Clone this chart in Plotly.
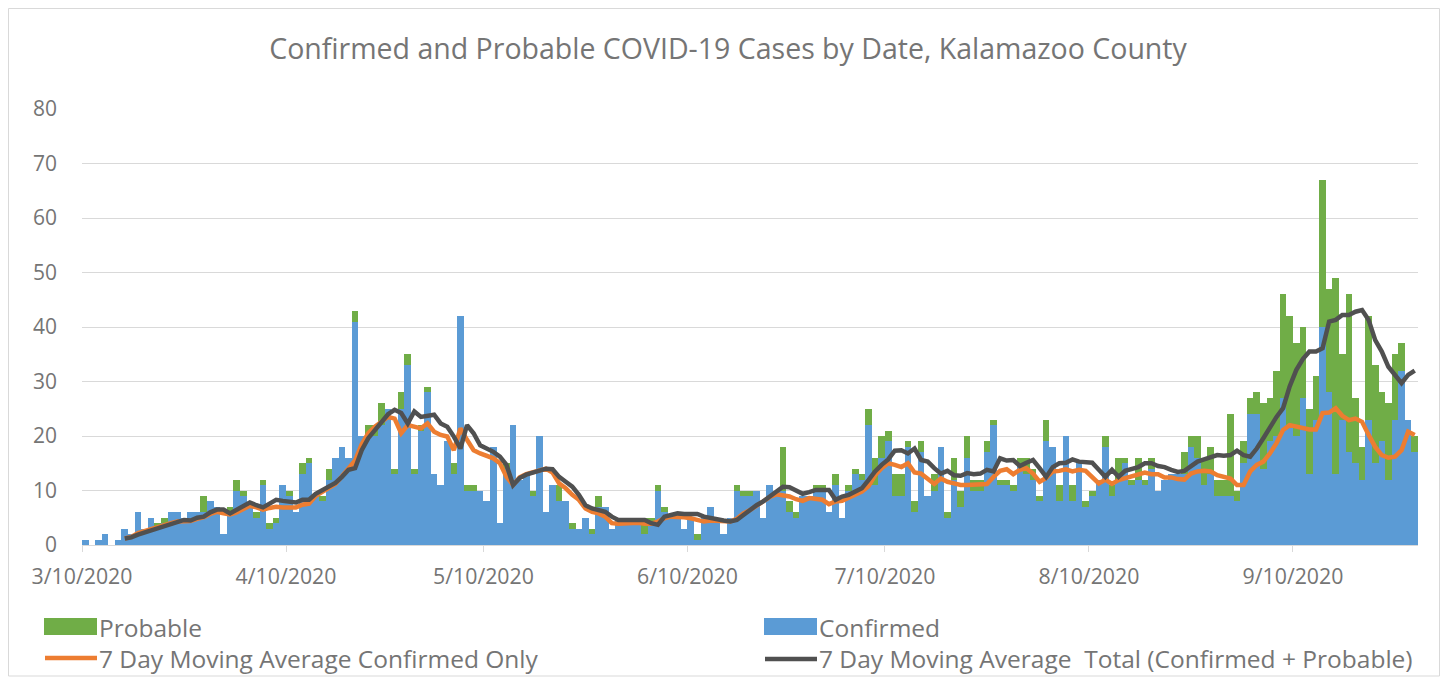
import pandas as pd
import plotly.graph_objects as go

dates = pd.date_range("2020-03-10", "2020-09-28", freq="D").strftime("%Y-%m-%d").tolist()

confirmed = [
    1, 0, 1, 2, 0, 1, 3, 2, 6, 3,
    5, 3, 4, 6, 6, 5, 6, 6, 6, 8,
    7, 2, 6, 10, 9, 7, 5, 11, 3, 4,
    11, 9, 6, 13, 15, 9, 8, 12, 16, 18,
    16, 41, 20, 20, 20, 22, 25, 13, 25, 33,
    13, 21, 28, 13, 11, 19, 13, 42, 10, 10,
    10, 8, 18, 4, 14, 22, 12, 13, 9, 20,
    6, 11, 8, 8, 3, 3, 5, 2, 7, 7,
    3, 5, 5, 5, 5, 2, 4, 10, 6, 5,
    5, 3, 5, 1, 5, 7, 5, 2, 5, 10,
    9, 9, 10, 5, 11, 10, 10, 6, 5, 9,
    9, 10, 10, 6, 11, 5, 10, 13, 12, 22,
    11, 16, 19, 9, 9, 18, 6, 17, 9, 10,
    18, 5, 12, 7, 16, 10, 10, 17, 22, 11,
    11, 10, 15, 13, 12, 8, 19, 18, 8, 20,
    8, 15, 7, 9, 12, 18, 9, 12, 15, 11,
    12, 11, 14, 10, 12, 13, 13, 13, 18, 16,
    11, 13, 9, 9, 9, 8, 15, 24, 24, 14,
    19, 20, 27, 22, 20, 27, 13, 23, 40, 28,
    13, 23, 17, 15, 12, 23, 15, 19, 12, 23,
    32, 23, 17,
]

probable = [
    0, 0, 0, 0, 0, 0, 0, 0, 0, 0,
    0, 1, 1, 0, 0, 0, 0, 0, 3, 0,
    0, 0, 1, 2, 1, 0, 1, 1, 1, 1,
    0, 1, 0, 2, 1, 0, 1, 2, 0, 0,
    0, 2, 0, 2, 2, 4, 0, 1, 3, 2,
    1, 1, 1, 0, 0, 0, 2, 0, 1, 1,
    0, 0, 0, 0, 1, 0, 0, 0, 1, 0,
    0, 0, 3, 0, 1, 0, 0, 1, 2, 0,
    0, 0, 0, 0, 0, 3, 1, 1, 1, 0,
    0, 0, 0, 1, 0, 0, 0, 0, 0, 1,
    1, 1, 0, 0, 0, 0, 8, 2, 1, 0,
    0, 1, 1, 0, 2, 0, 1, 1, 1, 3,
    5, 4, 2, 4, 4, 1, 2, 2, 0, 3,
    0, 1, 4, 3, 4, 2, 2, 2, 1, 1,
    1, 1, 1, 3, 2, 1, 4, 0, 3, 0,
    3, 0, 1, 1, 0, 2, 2, 4, 1, 1,
    4, 1, 2, 0, 0, 0, 0, 4, 2, 4,
    5, 5, 3, 3, 15, 2, 4, 3, 4, 12,
    8, 12, 19, 20, 17, 13, 12, 8, 27, 19,
    36, 12, 29, 12, 6, 19, 18, 9, 14, 12,
    5, 0, 3,
]

ma_confirmed = [
    None, None, None, None, None, None, 1.2, 1.5, 2.2, 2.6,
    2.8, 3.2, 3.6, 4.0, 4.3, 4.4, 4.4, 4.8, 5.1, 5.7,
    6.1, 5.8, 5.6, 6.0, 6.6, 7.2, 6.9, 6.5, 6.8, 7.0,
    6.9, 6.8, 6.9, 7.4, 7.6, 9.0, 9.7, 10.3, 11.2, 12.6,
    14.0, 15.5, 18.5, 20.5, 21.7, 22.6, 23.5, 23.2, 20.5, 22.0,
    21.7, 21.4, 22.3, 20.8, 20.2, 19.9, 17.4, 21.4, 19.3, 17.4,
    16.8, 16.4, 15.9, 15.0, 12.5, 11.0, 12.4, 13.0, 13.3, 13.7,
    14.0, 13.3, 11.3, 10.4, 9.2, 8.3, 6.7, 6.1, 5.8, 5.2,
    4.0, 3.9, 4.0, 4.1, 4.1, 3.9, 3.9, 4.3, 4.9, 5.2,
    5.2, 5.1, 4.9, 4.6, 4.3, 4.5, 4.5, 4.3, 4.3, 4.8,
    5.8, 6.4, 7.2, 7.9, 8.8, 9.3, 9.2, 8.9, 8.4, 8.1,
    8.6, 8.4, 8.3, 7.5, 8.0, 8.1, 8.6, 9.2, 9.8, 10.8,
    12.8, 14.1, 15.0, 14.7, 14.3, 15.0, 13.3, 13.1, 12.2, 11.2,
    12.2, 11.6, 11.3, 11.0, 11.0, 11.0, 11.0, 11.2, 12.5, 13.6,
    13.9, 13.0, 13.8, 14.1, 13.1, 11.6, 12.3, 13.5, 13.6, 13.9,
    13.5, 13.8, 13.6, 12.5, 11.3, 12.0, 11.2, 11.9, 12.2, 12.5,
    12.8, 13.3, 13.0, 13.0, 12.4, 12.4, 12.1, 12.0, 13.1, 13.5,
    13.6, 13.5, 12.8, 12.5, 12.2, 11.0, 11.0, 13.5, 14.7, 15.3,
    16.8, 18.7, 21.1, 22.0, 21.7, 21.4, 21.2, 21.2, 24.2, 24.3,
    25.1, 23.7, 22.9, 23.2, 22.6, 20.2, 18.0, 16.5, 16.0, 16.2,
    17.4, 20.8, 20.2,
]

ma_total = [
    None, None, None, None, None, None, 1.2, 1.4, 1.9, 2.3,
    2.6, 3.1, 3.5, 4.0, 4.4, 4.6, 4.5, 5.0, 5.2, 6.0,
    6.5, 6.5, 5.8, 6.4, 7.2, 7.8, 7.3, 6.9, 7.6, 8.3,
    8.1, 7.9, 7.8, 8.3, 8.3, 9.4, 10.1, 10.7, 11.4, 12.5,
    13.8, 14.1, 17.4, 19.6, 21.1, 22.6, 24.0, 24.8, 24.2, 22.3,
    24.5, 23.5, 23.7, 23.9, 22.3, 21.7, 19.9, 17.7, 22.0, 20.5,
    18.3, 17.7, 17.1, 16.2, 14.7, 11.0, 12.3, 12.9, 13.3, 13.7,
    14.0, 13.9, 12.5, 11.6, 10.7, 9.2, 7.3, 6.7, 6.4, 6.1,
    5.2, 4.6, 4.6, 4.7, 4.6, 4.6, 4.0, 3.7, 5.2, 5.5,
    5.8, 5.7, 5.8, 5.7, 5.2, 4.9, 4.7, 4.5, 4.3, 4.6,
    5.5, 6.5, 7.3, 8.0, 8.9, 9.8, 10.7, 10.6, 9.9, 9.4,
    9.7, 10.1, 10.1, 10.1, 8.3, 8.9, 9.2, 9.8, 10.4, 11.9,
    13.5, 14.7, 15.7, 17.3, 17.4, 16.8, 17.7, 15.6, 15.3, 14.1,
    13.1, 13.6, 12.8, 12.7, 13.2, 13.0, 13.1, 13.8, 13.5, 15.9,
    15.5, 15.6, 14.5, 15.1, 15.6, 14.1, 12.5, 14.3, 15.0, 15.1,
    15.7, 15.3, 15.3, 15.1, 13.8, 12.5, 13.8, 12.5, 13.6, 13.9,
    14.3, 15.0, 15.0, 14.5, 14.3, 13.8, 13.4, 13.6, 14.4, 15.3,
    15.7, 16.2, 16.5, 16.4, 16.5, 17.3, 16.5, 16.2, 17.7, 19.6,
    21.7, 23.5, 25.1, 29.1, 32.1, 34.1, 35.5, 35.5, 36.1, 41.0,
    41.3, 42.2, 42.2, 42.8, 43.1, 41.3, 37.6, 35.5, 32.7, 31.2,
    29.7, 31.2, 32.0,
]

tick_dates = ["2020-03-10", "2020-04-10", "2020-05-10", "2020-06-10",
              "2020-07-10", "2020-08-10", "2020-09-10"]
tick_labels = ["3/10/2020", "4/10/2020", "5/10/2020", "6/10/2020",
               "7/10/2020", "8/10/2020", "9/10/2020"]

BLUE, GREEN, ORANGE, DARK = "#5B9BD5", "#70AD47", "#ED7D31", "#505050"
DAY = 86400000
FONT = "Open Sans"
TXT = "#757575"

fig = go.Figure()
fig.add_trace(go.Bar(
    x=dates, y=confirmed, name="Confirmed", marker_color=BLUE,
    marker_line_width=0, xperiod=DAY, xperiodalignment="middle", width=DAY,
))
fig.add_trace(go.Bar(
    x=dates, y=probable, name="Probable", marker_color=GREEN,
    marker_line_width=0, xperiod=DAY, xperiodalignment="middle", width=DAY,
))
fig.add_trace(go.Scatter(
    x=dates, y=ma_confirmed, name="7 Day Moving Average Confirmed Only",
    mode="lines", line=dict(color=ORANGE, width=4.5),
    xperiod=DAY, xperiodalignment="middle",
))
fig.add_trace(go.Scatter(
    x=dates, y=ma_total, name="7 Day Moving Average  Total (Confirmed + Probable)",
    mode="lines", line=dict(color=DARK, width=4.5),
    xperiod=DAY, xperiodalignment="middle",
))

# The page body has an 8px margin: the figure is 1440x675 and is drawn at (8, 8).
# Plot area in page pixels: x 82..1418, y 109..545  (figure pixels: 74..1410, 101..537)
def px(x):
    return (x - 82) / 1336

def py(y):
    return (545 - y) / 436

shapes = [
    dict(type="rect", xref="paper", yref="paper",
         x0=px(8.5), x1=px(1439.5), y0=py(676), y1=py(8.5),
         line=dict(color="#D9D9D9", width=1), fillcolor="rgba(0,0,0,0)",
         layer="below"),
    # legend keys
    dict(type="rect", xref="paper", yref="paper",
         x0=px(44), x1=px(97), y0=py(635), y1=py(618),
         line=dict(width=0), fillcolor=GREEN),
    dict(type="rect", xref="paper", yref="paper",
         x0=px(764), x1=px(817), y0=py(635), y1=py(618),
         line=dict(width=0), fillcolor=BLUE),
    dict(type="line", xref="paper", yref="paper",
         x0=px(45), x1=px(97), y0=py(658), y1=py(658),
         line=dict(color=ORANGE, width=4.5)),
    dict(type="line", xref="paper", yref="paper",
         x0=px(765), x1=px(817), y0=py(659), y1=py(659),
         line=dict(color=DARK, width=4.5)),
]

legend_items = [
    ("Probable", 97, 627),
    ("Confirmed", 817, 627),
    ("7 Day Moving Average Confirmed Only", 97, 658),
    ("7 Day Moving Average  Total (Confirmed + Probable)", 817, 658),
]
annotations = [
    dict(text=t.replace("  ", "&nbsp; "), x=px(x), y=py(y), xref="paper", yref="paper",
         xanchor="left", yanchor="middle", showarrow=False,
         font=dict(family=FONT, size=24.5, color=TXT))
    for t, x, y in legend_items
]

fig.update_layout(
    width=1440, height=675,
    margin=dict(l=74, r=30, t=101, b=138, autoexpand=False),
    paper_bgcolor="white", plot_bgcolor="white",
    barmode="stack", bargap=0,
    font=dict(family=FONT, color=TXT, size=20),
    title=dict(
        text="Confirmed and Probable COVID-19 Cases by Date, Kalamazoo County",
        x=0.5, xanchor="center", y=1 - 41 / 675, yanchor="middle",
        font=dict(family=FONT, size=28.5, color=TXT),
    ),
    showlegend=False,
    xaxis=dict(
        type="date", range=["2020-03-10", "2020-09-29"],
        tickvals=tick_dates, ticktext=tick_labels,
        showgrid=False, showline=True, linecolor="#D9D9D9", linewidth=1,
        ticks="outside", ticklen=6, tickcolor="#D9D9D9",
        tickfont=dict(family=FONT, size=21.3, color=TXT),
        ticklabelstandoff=6,
    ),
    yaxis=dict(
        range=[0, 80], dtick=10, showgrid=True, gridcolor="#D9D9D9",
        gridwidth=1, zeroline=False, showline=False,
        tickfont=dict(family=FONT, size=21, color=TXT),
        ticklabelstandoff=24,
    ),
    shapes=shapes,
    annotations=annotations,
)

fig.write_html("out.html")
